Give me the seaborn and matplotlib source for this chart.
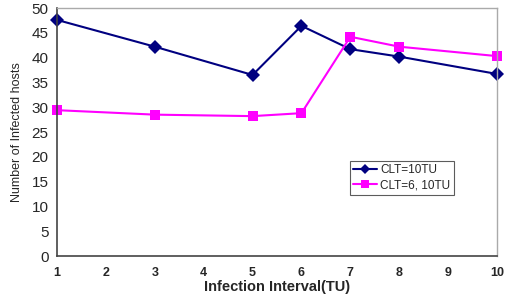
import pandas as pd
import matplotlib.pyplot as plt
import seaborn as sns

intervalos = [1, 3, 5, 6, 7, 8, 10]
clt_10 = [47.6, 42.2, 36.5, 46.4, 41.7, 40.2, 36.7]
clt_6_10 = [29.4, 28.5, 28.2, 28.8, 44.2, 42.2, 40.3]
series = ['CLT=10TU', 'CLT=6, 10TU']

df = pd.DataFrame({
    'Intervalo': intervalos * 2,
    'Hosts': clt_10 + clt_6_10,
    'Serie': [series[0]] * len(intervalos) + [series[1]] * len(intervalos),
})

sns.set_theme(style="white")
plt.rcParams['font.family'] = ['Liberation Sans', 'DejaVu Sans']

fig = plt.figure(figsize=(5.08, 2.99), dpi=100)
ax = fig.add_axes([57 / 508, 1 - 256 / 299, 440 / 508, 248 / 299])

sns.lineplot(data=df, x='Intervalo', y='Hosts', hue='Serie', style='Serie',
             palette={series[0]: '#000080', series[1]: '#FF00FF'},
             markers={series[0]: 'D', series[1]: 's'}, dashes=False,
             markersize=7, markeredgewidth=0, linewidth=1.5, ax=ax)
for linea in ax.lines:
    linea.set_clip_on(False)

ax.set_xlim(1, 10)
ax.set_ylim(0, 50)
ax.set_xticks(range(1, 11))
ax.set_yticks(range(0, 51, 5))
ax.tick_params(axis='x', direction='in', length=4, labelsize=9, pad=8, color='#555555')
ax.tick_params(axis='y', direction='out', length=3, labelsize=11, pad=3, color='#555555')
for lbl in ax.get_xticklabels():
    lbl.set_fontweight('bold')

for lado in ['top', 'right']:
    ax.spines[lado].set_color('#aaaaaa')
    ax.spines[lado].set_linewidth(1)
for lado in ['left', 'bottom']:
    ax.spines[lado].set_color('#444444')
    ax.spines[lado].set_linewidth(1.2)

ax.set_xlabel('Infection Interval(TU)', fontsize=10.5, fontweight='bold', labelpad=1)
ax.set_ylabel('Number of Infected hosts', fontsize=9, labelpad=6)

leg = ax.legend(title=None, loc='upper left', bbox_to_anchor=(0.665, 0.385),
                fontsize=8.5, frameon=True, fancybox=False, borderpad=0.3,
                handlelength=2.0, handletextpad=0.3, labelspacing=0.3,
                borderaxespad=0, markerscale=0.75)
leg.get_frame().set_edgecolor('#333333')
leg.get_frame().set_linewidth(0.8)

fig.savefig('out.png', dpi=100)
